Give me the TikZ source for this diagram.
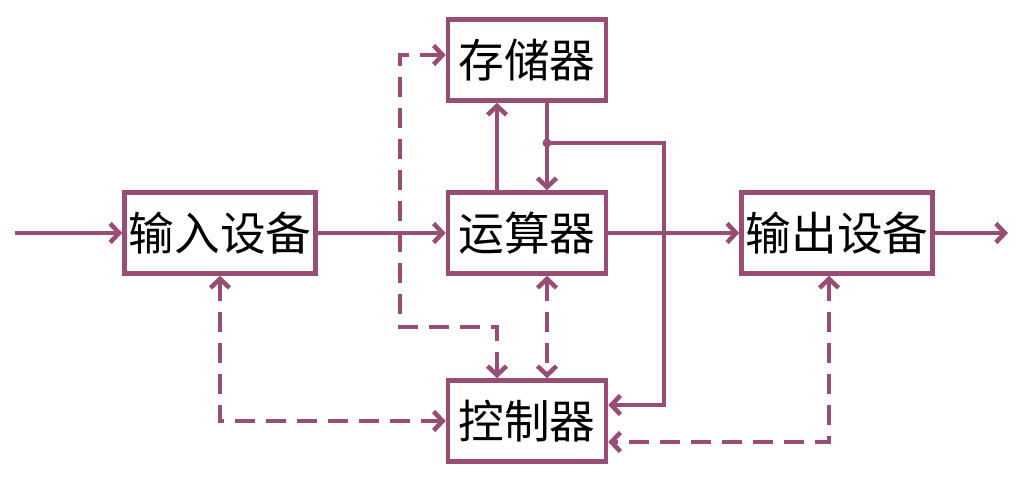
\documentclass[tikz,border=0pt]{standalone}
\usepackage{fontspec}
\newfontfamily\cjk{Noto Sans CJK SC}
\usetikzlibrary{arrows.meta}
\definecolor{plum}{RGB}{152,78,116}

\begin{document}
\begin{tikzpicture}[x=0.02cm, y=-0.02cm, line width=2.6pt, plum,
	>={Straight Barb[length=1.8mm,width=3.8mm]},
	every node/.style={font=\cjk\fontsize{26}{26}\selectfont, text=black},
	blk/.style={rectangle, draw, fill=white, minimum width=3.16cm, minimum height=1.62cm, inner sep=0pt},
	dsh/.style={dash pattern=on 0.4cm off 0.22cm}]
	\useasboundingbox (0,0) rectangle (1023,484);

	\node at (220,233) [blk, minimum width=3.82cm] (inp) {输入设备};
	\node at (527,60) [blk] (mem) {存储器};
	\node at (527,233) [blk] (alu) {运算器};
	\node at (837,233) [blk, minimum width=3.82cm] (outp) {输出设备};
	\node at (527,421) [blk] (ctrl) {控制器};

	\coordinate (src) at (15,233);
	\coordinate (snk) at (1008,233);
	\coordinate (tap) at (547,143);
	\coordinate (fb) at (664,405);
	\coordinate (cbus) at (400,327);

	\draw [->]
	  (src) edge (inp)
	  (inp) edge (alu)
	  (alu) edge (outp)
	  (outp) edge (snk)
	  ([xshift=-0.6cm]alu.north) edge ([xshift=-0.6cm]mem.south)
	  ([xshift=0.4cm]mem.south) -- ([xshift=0.4cm]alu.north)
	;
	\fill (tap) circle (0.09cm);
	\draw [->] (tap) -| (fb) -- (fb-|ctrl.east);

	% control lines
	\draw [dsh,<->] ([yshift=0.1cm]mem.west) -| (cbus) -| ([xshift=-0.6cm]ctrl.north);
	\draw [dsh,<->] ([xshift=0.4cm]alu.south) -- ([xshift=0.4cm]ctrl.north);
	\draw [dsh,<->] (inp.south) |- (ctrl.west);
	\draw [dsh,<->] ([xshift=-0.16cm]outp.south) |- ([yshift=-0.42cm]ctrl.east);

\end{tikzpicture}
\end{document}
